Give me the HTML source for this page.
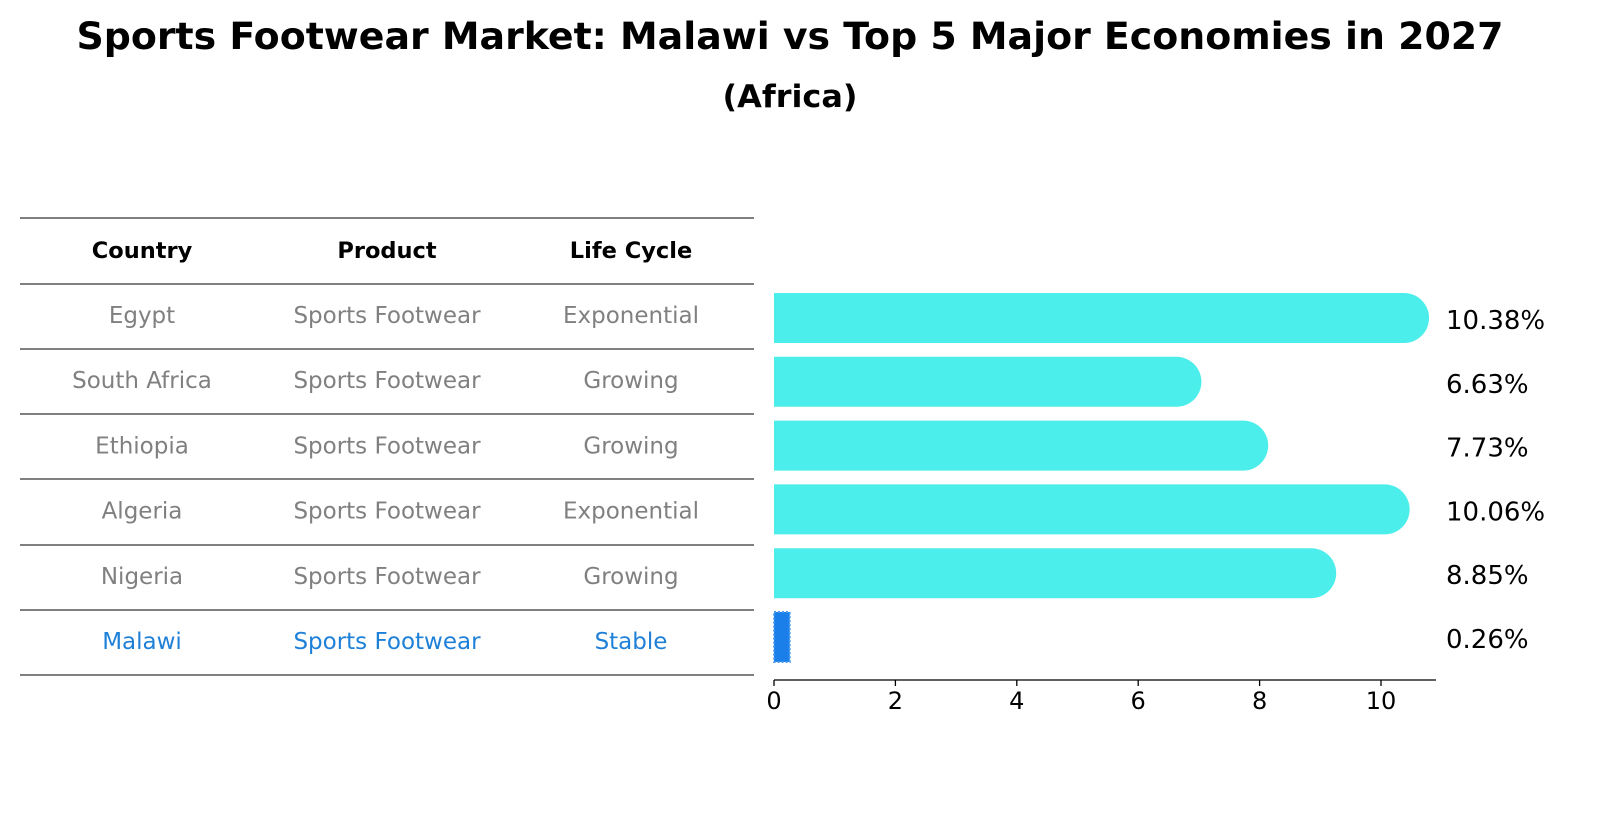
<!DOCTYPE html>
<html><head><meta charset="utf-8"><style>
html,body{margin:0;padding:0;background:#fff;overflow:hidden;width:1604px;height:823px;font-family:"DejaVu Sans","Liberation Sans",sans-serif;}
svg{display:block;}
svg text{font-family:"DejaVu Sans","Liberation Sans",sans-serif;}
</style></head><body>
<svg width="1604" height="823" xmlns="http://www.w3.org/2000/svg">
<text x="790" y="49" text-anchor="middle" font-size="37" font-weight="bold" textLength="1427" lengthAdjust="spacingAndGlyphs">Sports Footwear Market: Malawi vs Top 5 Major Economies in 2027</text>
<text x="790" y="107" text-anchor="middle" font-size="31" font-weight="bold" textLength="135" lengthAdjust="spacingAndGlyphs">(Africa)</text>
<g id="table"></g>
<g id="bars"></g>
<g id="axis"></g>
</svg>
<script>
const countries=["Egypt","South Africa","Ethiopia","Algeria","Nigeria","Malawi"];
const products=["Sports Footwear","Sports Footwear","Sports Footwear","Sports Footwear","Sports Footwear","Sports Footwear"];
const lifeCycles=["Exponential","Growing","Growing","Exponential","Growing","Stable"];
const values=[10.38,6.63,7.73,10.06,8.85,0.26];
const ticks=[0,2,4,6,8,10];
const NS="http://www.w3.org/2000/svg";
function mk(t,a,p){const e=document.createElementNS(NS,t);for(const k in a)e.setAttribute(k,a[k]);p.appendChild(e);return e;}
const x=v=>774+v*60.7;
const rowY=i=>318+i*63.8;
const tbl=document.getElementById('table');
const lines=[218,284,349,414,479,545,610,675];
lines.forEach(y=>{const l=mk('line',{x1:20,x2:754,y1:y,y2:y,stroke:'#000','stroke-width':1},tbl);

});
const cols=[142,387,631];
["Country","Product","Life Cycle"].forEach((h,j)=>{const t=mk('text',{x:cols[j],y:258,'text-anchor':'middle','font-size':22.5,'font-weight':'bold'},tbl);t.textContent=h;

});
countries.forEach((c,i)=>{const y=323+i*65.2;const col=c==="Malawi"?'#1f80d8':'#808080';
[c,products[i],lifeCycles[i]].forEach((s,j)=>{const t=mk('text',{x:cols[j],y:y,'text-anchor':'middle','font-size':23,fill:col},tbl);t.textContent=s;

});});
const bars=document.getElementById('bars');
values.forEach((v,i)=>{const cy=rowY(i);let b;
if(countries[i]==="Malawi"){b=mk('rect',{x:x(0),y:cy-25,width:Math.max(x(v)-x(0),2),height:50,fill:'#1a7fe8',stroke:'#4a9cf0','stroke-width':2,'stroke-dasharray':'2 2'},bars);}
else{const xe=x(v);b=mk('path',{d:`M${x(0)},${cy-25}H${xe}A25,25 0 0 1 ${xe},${cy+25}H${x(0)}Z`,fill:'#4beeea'},bars);}


const t=mk('text',{x:1446,y:cy+11,'font-size':26},bars);t.textContent=v.toFixed(2)+'%';

});
const ax=document.getElementById('axis');
const al=mk('line',{x1:774,x2:1436,y1:680,y2:680,stroke:'#000','stroke-width':1.3},ax);


ticks.forEach(v=>{const tk=mk('line',{x1:x(v),x2:x(v),y1:680,y2:686,stroke:'#000','stroke-width':1.3},ax);


const t=mk('text',{x:x(v),y:709,'text-anchor':'middle','font-size':24},ax);t.textContent=v;

});
</script>
</body></html>
